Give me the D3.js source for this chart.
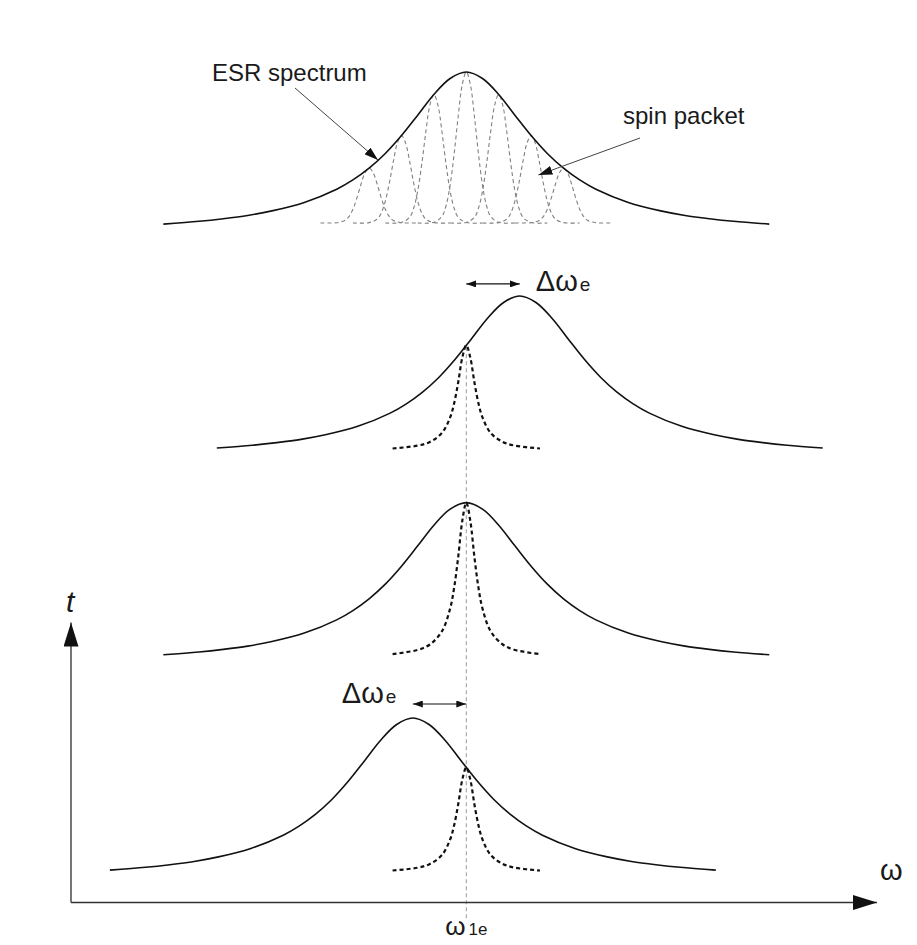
<!DOCTYPE html>
<html>
<head>
<meta charset="utf-8">
<script src="https://cdn.jsdelivr.net/npm/d3@7"></script>
<style>
  html, body { margin: 0; padding: 0; background: #fff; }
  svg { display: block; }
  text { font-family: "Liberation Sans", Arial, Helvetica, sans-serif; fill: #1a1a1a; }
</style>
</head>
<body>
<svg id="chart" width="917" height="945"></svg>
<script>
// ---------------- DATA ----------------
// Time level (t) of each spectrum, top to bottom
const rowT = [3.0, 1.96, 1.0, 0.0];
// Centre shift of each ESR spectrum relative to ω1e (units of the spectrum half-width)
const rowShift = [0, 0.66, 0, -0.66];
// Which rows show a single (burned) spin packet at ω1e
const rowHasPacket = [false, true, true, true];

// ESR spectrum line profile: offsets from centre and relative intensity
const profileOffsets = [-3.74, -3.3, -3.0, -2.7, -2.4, -2.0, -1.6, -1.4, -1.2, -1.0, -0.8, -0.6, -0.4, -0.2, 0,
                         0.2, 0.4, 0.6, 0.8, 1.0, 1.2, 1.4, 1.6, 2.0, 2.4, 2.7, 3.0, 3.3, 3.74];
const profileValues  = [0.067, 0.084, 0.10, 0.12, 0.148, 0.20, 0.281, 0.338, 0.41, 0.50, 0.61, 0.735, 0.862, 0.96, 1.0,
                         0.96, 0.862, 0.735, 0.61, 0.50, 0.41, 0.338, 0.281, 0.20, 0.148, 0.12, 0.10, 0.084, 0.067];

// Spin packets inside the top ESR spectrum (centres, relative to spectrum centre)
const topPacketCenters = [-1.2, -0.8, -0.4, 0, 0.4, 0.8, 1.2];
// Narrow spin-packet shape in the top spectrum
const topPacketOffsets = [-0.6, -0.4, -0.3, -0.25, -0.2, -0.15, -0.1, -0.05, 0, 0.05, 0.1, 0.15, 0.2, 0.25, 0.3, 0.4, 0.6];
const topPacketValues  = [0, 0.004, 0.044, 0.114, 0.249, 0.458, 0.707, 0.917, 1, 0.917, 0.707, 0.458, 0.249, 0.114, 0.044, 0.004, 0];
const topPacketBase = 0.074;

// Single spin packet (at ω1e) in the lower spectra
const packetOffsets = [-0.91, -0.6, -0.45, -0.3, -0.2, -0.15, -0.1, -0.05, 0, 0.05, 0.1, 0.15, 0.2, 0.3, 0.45, 0.6, 0.91];
const packetValues  = [0.022, 0.049, 0.084, 0.17, 0.316, 0.451, 0.649, 0.881, 1, 0.881, 0.649, 0.451, 0.316, 0.17, 0.084, 0.049, 0.022];
const packetBase = 0.05;

const omega1e = 0;
// Axis extents
const omegaDomain = [-4.88, 5.07];
const tAxisRange = [-0.1, 1.2];

// Text labels
const labelESR = "ESR spectrum";
const labelPacket = "spin packet";
const labelDelta = "Δω";
const labelDeltaSub = "e";
const labelOmega = "ω";
const labelOmega1 = "ω";
const labelOmega1Sub = "1e";
const labelT = "t";

// ---------------- SCALES ----------------
const svg = d3.select("#chart");
svg.append("rect").attr("width", 917).attr("height", 945).attr("fill", "#fff");

const x = d3.scaleLinear().domain(omegaDomain).range([71, 877]);
const yT = d3.scaleLinear().domain([0, 3]).range([881, 235]);
const amp = d3.scaleLinear().domain([0, 1]).range([0, 163]);
const yAt = (t, v) => yT(t) - amp(v);

const profileAt = d3.scaleLinear().domain(profileOffsets).range(profileValues).clamp(true);

const line = d3.line().curve(d3.curveCatmullRom.alpha(0.5));

// ---------------- DEFS ----------------
const defs = svg.append("defs");
function marker(id, w, h, color) {
  defs.append("marker").attr("id", id)
    .attr("viewBox", `0 0 ${w} ${h}`).attr("refX", w).attr("refY", h / 2)
    .attr("markerWidth", w).attr("markerHeight", h)
    .attr("markerUnits", "userSpaceOnUse").attr("orient", "auto-start-reverse")
    .append("path").attr("d", `M0,0 L${w},${h/2} L0,${h} Z`).attr("fill", color);
}
marker("axisHead", 24, 15, "#111");
marker("callHead", 14, 9, "#111");
marker("deltaHead", 10, 7, "#111");

// ---------------- VERTICAL ω1e LINE ----------------
svg.append("line")
  .attr("x1", x(omega1e)).attr("x2", x(omega1e))
  .attr("y1", yAt(rowT[1], profileAt(omega1e - rowShift[1])) + 2)
  .attr("y2", 920)
  .attr("stroke", "#9a9a9a").attr("stroke-width", 1).attr("stroke-dasharray", "4,3");

// ---------------- AXES ----------------
svg.append("line")
  .attr("x1", x(omegaDomain[0])).attr("x2", x(omegaDomain[1]))
  .attr("y1", yT(tAxisRange[0])).attr("y2", yT(tAxisRange[0]))
  .attr("stroke", "#333").attr("stroke-width", 1.6).attr("marker-end", "url(#axisHead)");
svg.append("line")
  .attr("x1", x(omegaDomain[0])).attr("x2", x(omegaDomain[0]))
  .attr("y1", yT(tAxisRange[0])).attr("y2", yT(tAxisRange[1]))
  .attr("stroke", "#555").attr("stroke-width", 1.6).attr("marker-end", "url(#axisHead)");

// ---------------- TOP SPIN PACKETS ----------------
topPacketCenters.forEach(c => {
  const peak = profileAt(c - rowShift[0]);
  const pts = topPacketOffsets.map((o, i) => [x(c + o), yAt(rowT[0], topPacketBase + (peak - topPacketBase) * topPacketValues[i])]);
  svg.append("path").attr("d", line(pts))
    .attr("fill", "none").attr("stroke", "#808080").attr("stroke-width", 1.1).attr("stroke-dasharray", "4,3");
});

// ---------------- LOWER SPIN PACKETS ----------------
rowT.forEach((t, r) => {
  if (!rowHasPacket[r]) return;
  const peak = profileAt(omega1e - rowShift[r]);
  const pts = packetOffsets.map((o, i) => [x(omega1e + o), yAt(t, packetBase + (peak - packetBase) * packetValues[i])]);
  svg.append("path").attr("d", line(pts))
    .attr("fill", "none").attr("stroke", "#111").attr("stroke-width", 2.2).attr("stroke-dasharray", "4,3");
});

// ---------------- ESR SPECTRA ----------------
rowT.forEach((t, r) => {
  const pts = profileOffsets.map((o, i) => [x(rowShift[r] + o), yAt(t, profileValues[i])]);
  svg.append("path").attr("d", line(pts))
    .attr("fill", "none").attr("stroke", "#111").attr("stroke-width", 1.6);
});

// ---------------- CALLOUTS ----------------
svg.append("text").attr("x", 212).attr("y", 81).attr("font-size", 24).text(labelESR);
svg.append("line")
  .attr("x1", 295).attr("y1", 88)
  .attr("x2", x(-1.09)).attr("y2", yAt(rowT[0], profileAt(-1.09)))
  .attr("stroke", "#444").attr("stroke-width", 1).attr("marker-end", "url(#callHead)");

svg.append("text").attr("x", 623).attr("y", 124).attr("font-size", 24).text(labelPacket);
svg.append("line")
  .attr("x1", 640).attr("y1", 138)
  .attr("x2", x(0.89)).attr("y2", 175)
  .attr("stroke", "#444").attr("stroke-width", 1).attr("marker-end", "url(#callHead)");

// ---------------- Δω ARROWS ----------------
function deltaArrow(r, yOff) {
  const yy = yAt(rowT[r], 1) + yOff;
  svg.append("line")
    .attr("x1", x(omega1e)).attr("x2", x(rowShift[r]))
    .attr("y1", yy).attr("y2", yy)
    .attr("stroke", "#111").attr("stroke-width", 1.2)
    .attr("marker-start", "url(#deltaHead)").attr("marker-end", "url(#deltaHead)");
  return yy;
}
const yd1 = deltaArrow(1, -12);
const t1 = svg.append("text").attr("x", x(rowShift[1]) + 16).attr("y", yd1 + 7).attr("font-size", 29);
t1.append("tspan").text(labelDelta);
t1.append("tspan").attr("font-size", 19).attr("dx", 2).text(labelDeltaSub);

const yd3 = deltaArrow(3, -14);
const t3 = svg.append("text").attr("x", x(rowShift[3]) - 71).attr("y", yd3 - 1).attr("font-size", 29);
t3.append("tspan").text(labelDelta);
t3.append("tspan").attr("font-size", 19).attr("dx", 2).text(labelDeltaSub);

// ---------------- AXIS LABELS ----------------
const tw = svg.append("text").attr("x", x(omega1e) - 21).attr("y", 935).attr("font-size", 26);
tw.append("tspan").text(labelOmega1);
tw.append("tspan").attr("font-size", 17).attr("dx", 3).text(labelOmega1Sub);

svg.append("text").attr("x", 880).attr("y", 880).attr("font-size", 29).text(labelOmega);
svg.append("text").attr("x", 66).attr("y", 612).attr("font-size", 30).attr("font-style", "italic").text(labelT);
</script>
</body>
</html>
